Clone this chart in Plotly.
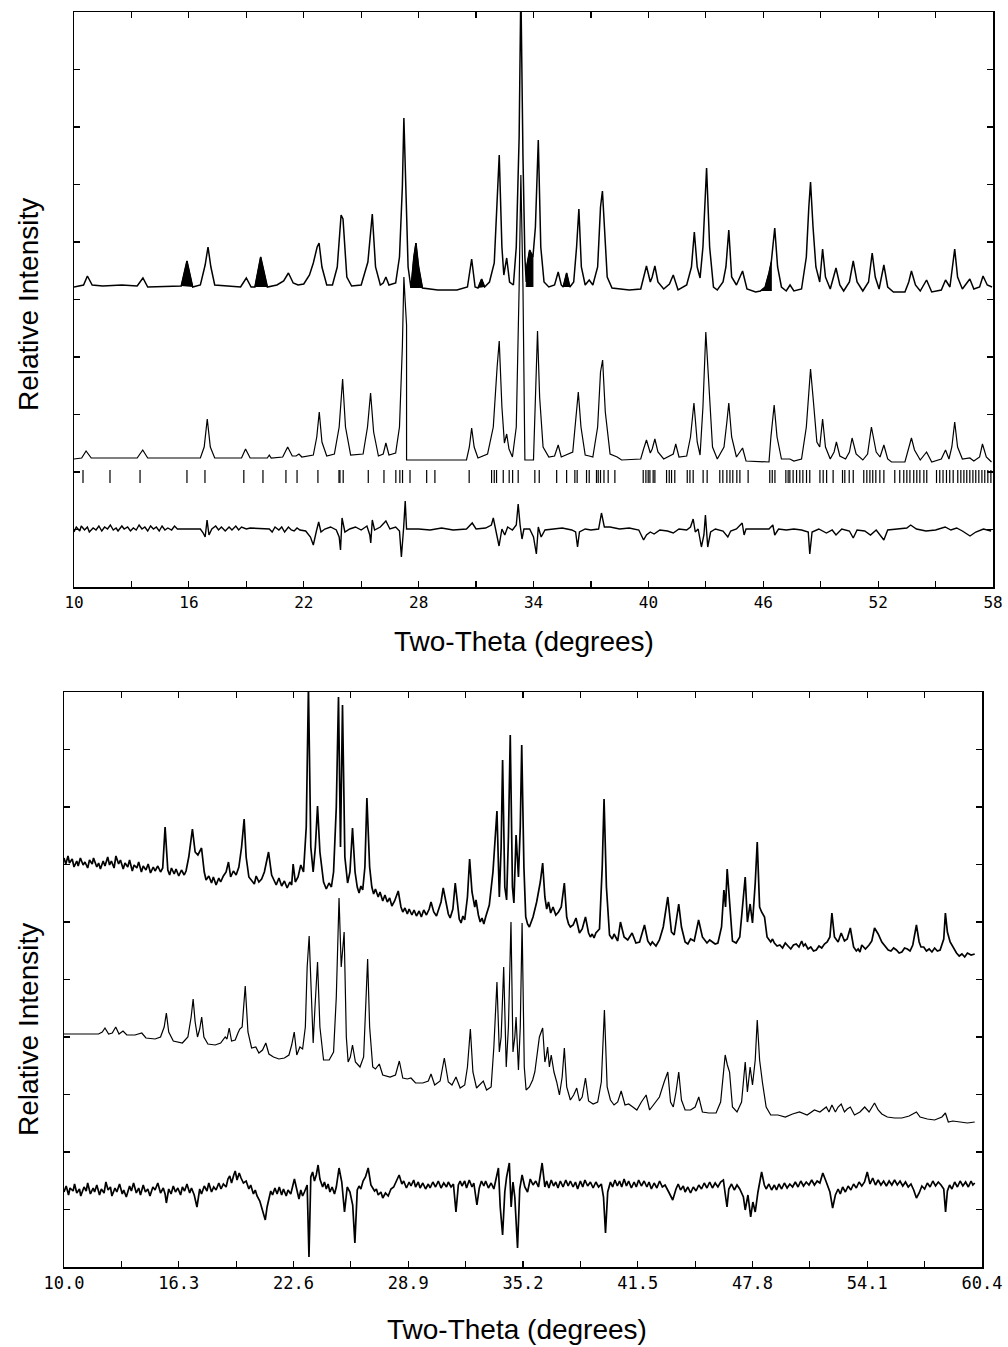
import plotly.graph_objects as go

# ---------------- TOP PANEL DATA (two-theta deg, relative intensity) ----------------
top_obs = [
(10.0,300),(10.5,302),(10.7,311),(10.95,302),(11.5,301),(12.5,302),(13.3,301),(13.6,309),(13.85,300),
(15.6,301),(15.9,326),(16.2,300),(16.6,302),(16.85,322),(17.0,340),(17.15,320),(17.35,302),
(18.7,300),(19.0,309),(19.25,300),(19.45,300),(19.75,330),(20.1,300),
(20.6,302),(20.95,306),(21.2,314),(21.45,304),(21.7,302),(22.0,303),
(22.3,312),(22.5,324),(22.7,340),(22.8,344),(22.95,320),(23.2,302),
(23.5,302),(23.75,320),(23.95,372),(24.05,368),(24.25,310),(24.5,301),
(25.0,302),(25.35,325),(25.58,373),(25.75,320),(26.0,302),(26.15,304),(26.29,310),(26.45,302),(26.8,304),
(27.0,330),(27.15,400),(27.23,469),(27.32,400),(27.45,320),(27.6,299),
(27.75,330),(27.86,344),(28.0,320),(28.2,299),
(29.0,297),(30.0,297),(30.55,300),(30.77,328),(30.95,300),(31.1,299),(31.29,308),(31.45,300),
(31.7,305),(31.95,324),(32.1,380),(32.21,432),(32.35,340),(32.45,312),(32.6,329),(32.75,305),(32.95,302),
(33.1,340),(33.25,450),(33.34,600),(33.45,430),(33.55,330),(33.62,305),(33.66,322),(33.8,337),(33.97,330),
(34.1,360),(34.25,447),(34.38,340),(34.55,305),(34.8,300),
(35.1,302),(35.29,315),(35.45,302),(35.55,300),(35.73,314),(35.9,300),
(36.1,305),(36.25,340),(36.37,378),(36.5,320),(36.7,302),(36.91,307),(37.1,302),
(37.35,320),(37.5,380),(37.6,396),(37.72,360),(37.85,310),(38.1,299),
(39.0,297),(39.6,298),(39.75,310),(39.9,321),(40.1,305),(40.2,310),(40.34,321),(40.5,305),(40.8,298),
(41.1,303),(41.3,312),(41.55,297),
(42.0,302),(42.25,320),(42.4,355),(42.55,320),(42.7,309),(42.85,340),(43.04,419),(43.2,340),(43.4,300),(43.6,297),
(43.9,305),(44.05,320),(44.2,357),(44.35,310),(44.6,302),(44.92,316),(45.15,298),
(45.6,295),(45.85,296),(46.1,300),(46.3,314),(46.42,325),(46.6,359),(46.75,320),(46.95,300),(47.2,296),(47.4,302),(47.6,296),
(48.0,298),(48.25,330),(48.38,380),(48.47,405),(48.6,360),(48.75,320),(48.95,305),(49.1,338),(49.25,310),(49.5,298),
(49.8,319),(50.0,302),(50.2,296),(50.5,305),(50.7,326),(50.9,305),(51.2,296),(51.5,305),(51.69,334),(51.85,310),(52.05,298),
(52.3,322),(52.5,300),(52.8,295),(53.4,295),(53.6,305),(53.74,316),(53.95,302),(54.2,296),(54.53,307),(54.8,295),
(55.3,297),(55.52,307),(55.75,300),(56.0,338),(56.15,310),(56.4,298),(56.79,308),(57.0,298),(57.3,300),(57.48,311),(57.7,302),(57.95,300)]

# impurity peaks (shaded black in the observed pattern)
top_impurity = [
[(15.6,301),(15.9,326),(16.2,300)],
[(19.45,300),(19.75,330),(20.1,300)],
[(27.6,299),(27.75,330),(27.86,344),(28.0,320),(28.2,299)],
[(31.1,299),(31.29,308),(31.45,300)],
[(33.62,300),(33.66,322),(33.8,337),(33.97,330),(33.97,300)],
[(35.55,300),(35.73,314),(35.9,300)],
[(45.85,296),(46.1,300),(46.3,314),(46.42,325),(46.42,296)]]

top_calc = [
(10.0,128),(10.4,129),(10.63,136),(10.9,129),(13.3,129),(13.59,137),(13.85,129),(16.6,129),(16.8,140),(16.96,168),
(17.12,140),(17.35,129),(18.75,129),(18.96,138),(19.2,129),(20.1,129),(20.2,132),(20.3,129),(20.9,130),(21.16,140),
(21.4,131),(21.6,131),(21.75,133),(21.9,130),(22.5,132),(22.68,150),(22.81,175),(22.95,145),(23.2,131),(23.6,133),
(23.85,160),(24.03,208),(24.18,160),(24.45,132),(25.1,133),(25.33,160),(25.49,194),(25.65,155),(25.9,131),(26.15,133),
(26.29,144),(26.45,132),(26.8,134),(27.0,160),(27.15,240),(27.23,310),(27.3,285),(27.37,262),(27.37,127),
(30.5,127),(30.65,140),(30.77,159),(30.9,140),(31.1,129),(31.6,133),(31.9,160),(32.1,220),(32.21,246),(32.35,180),
(32.48,144),(32.6,153),(32.72,138),(32.9,130),(33.1,160),(33.25,300),(33.34,412),(33.45,300),(33.55,127),(34.0,127),
(34.05,160),(34.15,230),(34.21,256),(34.32,190),(34.5,140),(34.8,130),(35.1,131),(35.29,142),(35.45,130),(36.05,135),
(36.2,170),(36.34,195),(36.48,160),(36.7,132),(36.91,131),(37.1,130),(37.35,160),(37.5,215),(37.61,227),(37.75,175),
(38.0,133),(38.37,130),(38.6,127),(39.6,128),(39.75,138),(39.9,147),(40.1,134),(40.2,138),(40.34,148),(40.5,135),
(40.8,128),(41.15,131),(41.3,133),(41.43,143),(41.6,130),(42.0,131),(42.2,150),(42.38,184),(42.55,145),(42.7,132),
(42.85,180),(43.0,255),(43.15,200),(43.35,140),(43.6,128),(43.95,140),(44.1,165),(44.2,184),(44.35,150),(44.6,130),
(44.92,139),(45.1,126),(46.3,125),(46.4,150),(46.57,182),(46.72,150),(46.95,128),(47.39,128),(47.6,126),(48.0,128),
(48.25,160),(48.38,200),(48.47,218),(48.6,190),(48.8,145),(48.95,140),(49.1,168),(49.25,140),(49.5,128),(49.7,135),
(49.82,145),(50.0,131),(50.3,128),(50.5,135),(50.64,149),(50.85,133),(51.2,127),(51.45,133),(51.65,160),(51.75,150),
(51.9,135),(52.1,130),(52.3,142),(52.5,128),(52.7,125),(53.4,125),(53.6,138),(53.74,149),(53.9,137),(54.2,127),
(54.53,135),(54.8,125),(55.3,128),(55.52,137),(55.7,128),(55.85,140),(56.0,165),(56.15,140),(56.4,128),(56.79,129),
(57.0,126),(57.3,130),(57.45,143),(57.65,130),(57.92,125)]

top_diff = [
(10.0,55),(10.12,60),(10.3,56),(10.38,61),(10.55,57),(10.7,60),(10.8,55),(11.0,59),(11.15,57),(11.3,61),(11.45,56),(11.6,60),
(11.75,58),(11.9,62),(12.05,57),(12.2,59),(12.3,56),(12.5,61),(12.62,58),(12.8,60),(12.95,56),(13.1,59),(13.25,57),(13.4,62),
(13.55,58),(13.7,60),(13.85,56),(14.0,61),(14.15,58),(14.3,60),(14.45,56),(14.6,61),(14.75,57),(14.9,59),(15.1,57),(15.25,61),
(15.4,58),(16.6,58),(16.75,54),(16.85,50),(16.95,67),(17.05,52),(17.2,58),(17.4,61),(17.55,57),(17.7,60),(17.9,56),(18.1,60),
(18.25,57),(18.45,61),(18.6,57),(18.75,60),(19.0,58),(19.2,59),(20.2,58),(20.35,55),(20.5,60),(20.7,57),(20.85,60),(21.0,55),
(21.2,60),(21.35,57),(21.5,56),(21.65,59),(21.8,57),(22.1,56),(22.35,50),(22.5,42),(22.65,55),(22.78,65),(22.9,55),(23.1,58),
(23.4,60),(23.7,57),(23.85,50),(23.92,37),(24.0,69),(24.15,55),(24.4,58),(24.7,60),(25.0,57),(25.3,61),(25.45,52),(25.5,44),
(25.58,67),(25.7,57),(26.0,60),(26.29,66),(26.5,58),(26.8,60),(27.0,56),(27.1,30),(27.22,60),(27.3,86),(27.37,58),(28.0,58),
(28.6,57),(29.2,59),(29.8,57),(30.5,58),(30.8,64),(31.0,58),(31.5,59),(31.8,62),(31.9,69),(32.05,56),(32.2,41),(32.35,58),(32.5,52),
(32.65,60),(32.9,57),(33.1,62),(33.2,83),(33.3,62),(33.4,48),(33.5,58),(33.8,58),(34.0,50),(34.15,33),(34.25,60),(34.4,50),
(34.6,57),(35.0,58),(35.5,59),(36.0,57),(36.2,55),(36.3,40),(36.4,55),(36.7,58),(37.0,57),(37.4,58),(37.55,74),(37.7,60),
(38.0,60),(38.5,58),(39.0,59),(39.5,57),(39.75,47),(39.9,52),(40.1,55),(40.3,53),(40.6,57),(41.0,56),(41.3,54),(41.6,58),
(42.0,57),(42.2,60),(42.34,68),(42.45,55),(42.6,58),(42.77,40),(42.9,52),(42.98,72),(43.1,40),(43.25,55),(43.5,58),(43.9,56),
(44.15,50),(44.3,56),(44.6,58),(44.9,64),(45.0,52),(45.1,58),(46.3,58),(46.5,62),(46.6,52),(46.8,58),(47.2,57),(47.6,58),
(48.0,57),(48.35,55),(48.43,33),(48.55,55),(48.9,58),(49.3,54),(49.6,57),(49.8,52),(50.1,58),(50.5,56),(50.7,49),(50.9,57),
(51.3,56),(51.6,52),(51.9,57),(52.3,47),(52.5,57),(53.0,58),(53.5,59),(53.7,62),(54.0,58),(54.5,56),(55.0,57),(55.5,60),
(55.8,57),(56.1,59),(56.4,56),(56.8,51),(57.1,55),(57.5,58),(57.9,56)]

top_reflections = [
10.47,11.88,13.45,15.9,16.84,18.87,19.87,21.07,21.65,22.74,23.84,23.89,24.06,25.37,26.19,26.81,27.02,27.16,27.55,
28.42,28.85,30.64,31.81,31.95,32.07,32.42,32.73,32.91,33.2,34.07,34.3,35.21,35.73,36.16,36.28,36.77,36.91,37.29,
37.38,37.5,37.68,37.9,38.25,39.73,39.87,39.99,40.08,40.25,40.34,40.95,41.09,41.21,41.38,42.03,42.17,42.34,42.86,
43.07,43.73,43.89,44.1,44.26,44.41,44.62,44.78,45.21,46.34,46.47,46.61,47.18,47.3,47.39,47.56,47.74,47.91,48.07,
48.26,48.43,48.96,49.13,49.31,49.65,50.14,50.26,50.49,50.7,51.25,51.41,51.57,51.72,51.88,52.09,52.3,52.87,53.13,
53.34,53.5,53.66,53.86,54.02,54.18,54.39,54.54,55.05,55.22,55.39,55.57,55.74,55.92,56.16,56.32,56.48,56.63,56.79,
56.95,57.1,57.26,57.42,57.57,57.73,57.89]

# ---------------- BOTTOM PANEL DATA ----------------
bot_obs = [
(10.0,409),(10.1,403),(10.22,411),(10.3,404),(10.45,408),(10.55,400),(10.7,406),(10.78,401),(10.9,409),(11.05,402),(11.15,405),
(11.3,399),(11.4,407),(11.55,403),(11.62,409),(11.8,400),(11.9,404),(12.0,398),(12.15,406),(12.25,401),(12.4,410),(12.5,402),
(12.6,406),(12.75,399),(12.85,411),(13.0,403),(13.1,407),(13.25,398),(13.35,404),(13.5,400),(13.6,407),(13.75,396),(13.85,402),
(14.0,399),(14.1,405),(14.25,395),(14.35,401),(14.5,397),(14.62,403),(14.75,394),(14.9,400),(15.0,396),(15.15,401),(15.3,395),
(15.42,399),(15.55,440),(15.7,397),(15.8,392),(15.9,399),(16.05,393),(16.15,398),(16.3,391),(16.45,397),(16.6,392),(16.7,396),
(16.85,410),(17.05,438),(17.2,415),(17.35,412),(17.55,419),(17.7,395),(17.8,387),(17.95,391),(18.1,384),(18.2,390),(18.35,382),
(18.5,389),(18.6,385),(18.75,391),(18.9,395),(19.03,405),(19.15,390),(19.3,396),(19.45,392),(19.6,400),(19.75,420),(19.89,448),
(20.0,410),(20.15,390),(20.3,386),(20.45,383),(20.55,391),(20.7,385),(20.85,388),(21.0,395),(21.23,415),(21.4,392),(21.55,386),
(21.65,382),(21.8,389),(21.95,381),(22.1,386),(22.25,379),(22.4,385),(22.5,382),(22.58,403),(22.7,385),(22.85,390),(23.0,402),
(23.15,395),(23.3,440),(23.42,580),(23.55,420),(23.68,395),(23.8,420),(23.92,461),(24.05,415),(24.25,385),(24.4,378),(24.55,384),
(24.68,380),(24.8,395),(24.95,460),(25.07,570),(25.18,420),(25.29,562),(25.42,410),(25.57,384),(25.7,395),(25.84,439),(25.98,395),
(26.1,380),(26.2,374),(26.3,381),(26.4,377),(26.52,400),(26.63,469),(26.78,400),(26.9,380),(27.0,373),(27.1,378),(27.25,370),
(27.35,375),(27.5,366),(27.62,372),(27.75,365),(27.88,369),(28.0,361),(28.15,366),(28.35,376),(28.5,360),(28.6,355),(28.72,359),
(28.85,353),(28.95,358),(29.1,352),(29.22,357),(29.35,351),(29.5,356),(29.62,350),(29.75,357),(29.9,352),(30.05,358),(30.15,365),
(30.3,355),(30.45,351),(30.55,357),(30.7,365),(30.82,379),(31.0,360),(31.1,353),(31.2,349),(31.35,358),(31.48,384),(31.6,362),
(31.7,348),(31.8,344),(31.9,351),(32.0,347),(32.15,370),(32.27,408),(32.4,375),(32.55,360),(32.62,367),(32.75,352),(32.85,345),
(32.95,349),(33.05,343),(33.15,350),(33.35,362),(33.55,395),(33.68,430),(33.77,456),(33.9,370),(34.0,420),(34.08,507),(34.2,380),
(34.3,367),(34.4,430),(34.5,532),(34.62,380),(34.7,364),(34.82,432),(34.95,390),(35.05,440),(35.13,522),(35.25,400),(35.35,350),
(35.45,343),(35.55,340),(35.65,346),(35.75,350),(35.95,365),(36.15,385),(36.28,404),(36.4,370),(36.5,358),(36.6,365),(36.72,354),
(36.85,360),(37.0,352),(37.15,355),(37.3,360),(37.47,384),(37.6,350),(37.7,343),(37.8,340),(37.95,342),(38.11,349),(38.3,334),
(38.45,338),(38.63,350),(38.8,334),(38.9,330),(39.0,333),(39.1,329),(39.2,334),(39.4,338),(39.55,400),(39.65,468),(39.78,380),
(39.95,332),(40.1,328),(40.2,333),(40.4,326),(40.55,345),(40.75,330),(40.95,327),(41.19,334),(41.4,324),(41.6,325),(41.87,342),
(42.05,326),(42.2,322),(42.3,325),(42.5,321),(42.69,327),(42.9,340),(43.15,370),(43.35,335),(43.5,332),(43.6,345),(43.75,363),
(43.9,340),(44.1,325),(44.25,323),(44.4,328),(44.6,326),(44.84,347),(45.05,330),(45.2,326),(45.3,324),(45.45,327),(45.6,325),
(45.75,323),(45.9,324),(46.1,340),(46.23,377),(46.32,360),(46.41,398),(46.55,360),(46.7,326),(46.9,324),(47.1,330),(47.3,370),
(47.4,390),(47.52,345),(47.67,363),(47.8,344),(47.95,384),(48.06,425),(48.19,360),(48.3,355),(48.46,350),(48.6,330),(48.7,327),
(48.8,325),(48.9,328),(49.0,324),(49.15,321),(49.3,322),(49.45,319),(49.6,324),(49.75,321),(49.9,318),(50.05,322),(50.2,323),
(50.35,320),(50.5,326),(50.6,321),(50.7,323),(50.85,318),(51.0,320),(51.15,316),(51.3,317),(51.45,321),(51.6,319),(51.75,323),
(51.9,325),(52.05,330),(52.16,354),(52.3,330),(52.4,328),(52.5,325),(52.67,334),(52.85,326),(53.0,328),(53.17,339),(53.35,320),
(53.5,316),(53.6,318),(53.7,315),(53.8,322),(54.0,318),(54.2,322),(54.35,326),(54.5,339),(54.7,333),(54.9,325),(55.1,320),
(55.25,317),(55.4,316),(55.55,319),(55.7,317),(55.85,314),(56.0,315),(56.15,319),(56.3,318),(56.45,316),(56.6,322),(56.8,342),
(56.95,325),(57.05,320),(57.2,320),(57.35,316),(57.5,318),(57.65,315),(57.8,319),(57.95,316),(58.1,317),(58.3,328),(58.39,354),
(58.5,335),(58.65,325),(58.8,320),(58.9,316),(59.0,314),(59.15,311),(59.3,313),(59.45,310),(59.6,314),(59.8,312),(60.0,313)]

bot_calc = [
(10.0,233),(11.9,233),(12.1,235),(12.25,239),(12.45,233),(12.65,234),(12.84,240),(13.02,233),(13.24,236),(13.45,232),(13.9,232),
(14.27,234),(14.5,229),(15.0,228),(15.3,230),(15.5,240),(15.62,254),(15.75,235),(16.0,226),(16.5,224),(16.8,230),(16.98,250),
(17.09,268),(17.2,245),(17.33,230),(17.45,238),(17.56,250),(17.68,230),(17.9,223),(18.3,222),(18.6,224),(18.85,230),(18.95,228),
(19.07,239),(19.2,226),(19.4,227),(19.55,234),(19.65,238),(19.78,240),(19.95,281),(20.1,235),(20.3,219),(20.53,220),(20.7,214),
(20.9,217),(21.08,224),(21.25,213),(21.5,210),(21.8,208),(22.1,209),(22.35,212),(22.5,222),(22.64,235),(22.78,212),(22.95,220),
(23.1,218),(23.25,240),(23.35,300),(23.46,331),(23.57,280),(23.68,224),(23.78,260),(23.92,305),(24.05,240),(24.25,207),(24.56,207),
(24.8,215),(24.95,270),(25.1,369),(25.22,300),(25.38,335),(25.5,230),(25.6,205),(25.72,210),(25.84,222),(26.0,205),(26.25,200),
(26.45,210),(26.58,260),(26.67,308),(26.78,240),(26.95,200),(27.1,198),(27.31,203),(27.5,192),(27.9,190),(28.2,192),(28.41,206),
(28.6,189),(28.85,188),(29.05,189),(29.3,184),(29.7,184),(30.0,186),(30.15,193),(30.35,182),(30.65,186),(30.88,209),(31.1,185),
(31.3,182),(31.52,190),(31.75,179),(32.0,182),(32.15,200),(32.31,238),(32.45,195),(32.65,179),(32.85,183),(33.02,186),(33.2,177),
(33.45,180),(33.6,220),(33.77,285),(33.9,215),(34.0,230),(34.14,300),(34.28,200),(34.4,240),(34.54,345),(34.65,215),(34.75,230),
(34.82,250),(34.95,197),(35.05,240),(35.15,344),(35.27,200),(35.37,177),(35.55,180),(35.73,187),(35.85,195),(35.98,215),(36.1,230),
(36.28,239),(36.4,205),(36.47,210),(36.55,220),(36.65,200),(36.75,212),(36.9,195),(37.05,185),(37.2,172),(37.35,190),(37.47,219),
(37.6,180),(37.8,167),(37.98,172),(38.15,179),(38.3,166),(38.45,170),(38.63,189),(38.8,166),(39.05,163),(39.3,165),(39.5,185),
(39.67,257),(39.82,180),(40.0,167),(40.2,162),(40.4,165),(40.59,176),(40.8,162),(41.0,163),(41.23,160),(41.45,157),(41.7,165),
(41.96,172),(42.15,157),(42.4,163),(42.69,170),(42.95,185),(43.15,195),(43.3,165),(43.45,160),(43.6,175),(43.75,195),(43.9,167),
(44.1,157),(44.4,157),(44.65,160),(44.85,170),(45.05,155),(45.4,154),(45.8,154),(46.05,165),(46.2,195),(46.3,212),(46.42,202),
(46.54,195),(46.7,160),(46.95,155),(47.2,165),(47.4,205),(47.52,175),(47.67,200),(47.8,182),(47.95,207),(48.06,247),(48.19,207),
(48.35,184),(48.55,160),(48.8,152),(49.2,152),(49.6,150),(50.0,153),(50.38,155),(50.8,152),(51.2,157),(51.5,155),(51.85,160),
(52.0,155),(52.16,162),(52.35,155),(52.5,160),(52.67,163),(52.85,155),(53.0,158),(53.17,160),(53.4,152),(53.7,155),(53.96,160),
(54.2,155),(54.5,164),(54.7,157),(54.9,153),(55.2,150),(55.6,149),(56.0,149),(56.4,151),(56.8,155),(57.0,150),(57.4,148),
(57.8,147),(58.2,150),(58.39,154),(58.55,145),(58.8,146),(59.2,145),(59.6,144),(60.0,145)]

bot_diff = [
(10.0,75),(10.12,81),(10.25,72),(10.33,79),(10.5,76),(10.58,83),(10.7,74),(10.85,78),(10.92,71),(11.1,80),(11.22,76),(11.3,84),
(11.45,73),(11.6,79),(11.68,75),(11.8,82),(11.95,72),(12.05,78),(12.2,74),(12.3,85),(12.42,77),(12.55,80),(12.63,71),(12.8,79),
(12.9,75),(13.05,83),(13.2,73),(13.28,77),(13.42,70),(13.6,81),(13.7,76),(13.82,84),(13.97,74),(14.1,79),(14.2,72),(14.35,82),
(14.47,75),(14.6,78),(14.72,71),(14.88,80),(15.0,77),(15.15,84),(15.3,74),(15.45,79),(15.55,73),(15.62,64),(15.75,78),(15.88,73),
(16.0,81),(16.12,75),(16.25,79),(16.4,72),(16.5,80),(16.62,76),(16.75,83),(16.9,74),(17.0,79),(17.15,72),(17.3,60),(17.45,78),
(17.55,73),(17.7,81),(17.85,76),(17.95,84),(18.1,75),(18.22,80),(18.35,77),(18.5,84),(18.62,78),(18.75,83),(18.9,80),(19.0,88),
(19.1,91),(19.2,84),(19.32,92),(19.4,96),(19.5,87),(19.62,94),(19.72,89),(19.85,84),(20.0,86),(20.15,78),(20.25,82),(20.4,73),
(20.5,77),(20.6,71),(20.75,66),(20.85,60),(20.95,53),(21.05,47),(21.15,60),(21.25,70),(21.35,76),(21.45,72),(21.58,79),(21.7,73),
(21.82,80),(21.95,72),(22.05,78),(22.2,71),(22.3,77),(22.45,73),(22.55,80),(22.65,88),(22.75,80),(22.9,68),(23.0,77),(23.1,71),
(23.2,75),(23.35,82),(23.45,10),(23.55,90),(23.65,95),(23.75,86),(23.85,92),(23.95,102),(24.05,88),(24.2,80),(24.3,85),(24.4,78),
(24.5,83),(24.6,75),(24.72,80),(24.85,73),(24.95,80),(25.1,99),(25.25,85),(25.4,55),(25.55,80),(25.7,75),(25.85,62),(25.97,24),
(26.1,77),(26.2,81),(26.3,78),(26.42,86),(26.55,90),(26.7,99),(26.85,82),(26.95,79),(27.05,76),(27.15,78),(27.25,72),(27.4,75),
(27.5,69),(27.65,74),(27.8,71),(27.95,78),(28.1,80),(28.2,84),(28.4,92),(28.55,83),(28.65,86),(28.8,79),(28.95,85),(29.05,81),
(29.2,87),(29.3,80),(29.45,85),(29.55,79),(29.7,84),(29.85,78),(30.0,83),(30.1,79),(30.25,85),(30.4,80),(30.55,86),(30.7,79),
(30.85,84),(31.0,80),(31.1,85),(31.25,80),(31.38,83),(31.52,55),(31.65,82),(31.75,86),(31.85,81),(32.0,86),(32.1,79),(32.25,87),
(32.4,80),(32.5,84),(32.67,62),(32.8,79),(32.92,86),(33.05,81),(33.15,86),(33.3,79),(33.45,84),(33.6,78),(33.75,90),(33.85,99),
(33.95,60),(34.08,32),(34.2,75),(34.3,90),(34.45,104),(34.55,60),(34.65,85),(34.75,70),(34.9,19),(35.02,78),(35.15,92),(35.3,80),
(35.45,75),(35.6,88),(35.75,82),(35.9,86),(36.05,80),(36.25,104),(36.4,80),(36.5,86),(36.62,79),(36.75,87),(36.88,81),(37.0,85),
(37.12,79),(37.25,86),(37.4,80),(37.55,87),(37.68,81),(37.8,86),(37.95,80),(38.08,85),(38.2,78),(38.35,86),(38.48,80),(38.6,87),
(38.75,81),(38.9,85),(39.05,79),(39.2,85),(39.35,80),(39.5,83),(39.62,70),(39.73,34),(39.85,75),(40.0,85),(40.12,80),(40.25,87),
(40.38,81),(40.5,86),(40.62,80),(40.75,88),(40.88,81),(41.0,86),(41.15,79),(41.3,85),(41.42,80),(41.55,87),(41.7,81),(41.85,86),
(42.0,80),(42.12,85),(42.25,78),(42.4,84),(42.55,79),(42.7,86),(42.85,80),(43.0,82),(43.2,75),(43.42,67),(43.6,78),(43.72,83),
(43.85,77),(44.0,81),(44.1,75),(44.25,80),(44.4,74),(44.55,80),(44.7,76),(44.85,82),(45.0,78),(45.15,84),(45.3,79),(45.45,85),
(45.6,79),(45.75,84),(45.9,80),(46.05,85),(46.2,87),(46.3,75),(46.4,60),(46.5,78),(46.65,83),(46.8,77),(46.95,82),(47.1,78),
(47.3,70),(47.4,57),(47.55,72),(47.7,50),(47.82,65),(47.95,55),(48.1,75),(48.3,95),(48.45,82),(48.55,78),(48.7,83),(48.85,77),
(49.0,82),(49.12,77),(49.25,83),(49.4,78),(49.55,84),(49.7,79),(49.85,83),(50.0,80),(50.15,85),(50.3,80),(50.45,86),(50.6,81),
(50.75,85),(50.9,82),(51.05,87),(51.2,82),(51.35,86),(51.5,84),(51.66,94),(51.85,85),(52.05,75),(52.2,59),(52.35,72),(52.5,78),
(52.62,73),(52.75,80),(52.9,75),(53.05,81),(53.2,77),(53.35,83),(53.5,79),(53.65,85),(53.8,81),(53.95,85),(54.1,95),(54.25,83),
(54.4,89),(54.55,82),(54.7,87),(54.85,82),(55.0,86),(55.15,81),(55.3,86),(55.45,82),(55.6,87),(55.75,82),(55.9,86),(56.05,81),
(56.2,85),(56.35,80),(56.5,83),(56.65,77),(56.8,69),(56.95,74),(57.1,81),(57.25,78),(57.4,84),(57.55,80),(57.7,86),(57.85,81),
(58.0,85),(58.15,82),(58.3,78),(58.4,55),(58.5,76),(58.62,82),(58.75,78),(58.9,85),(59.05,80),(59.2,86),(59.35,81),(59.5,85),
(59.65,80),(59.8,86),(59.9,82),(60.0,84)]

top_xticks = [10, 13, 16, 19, 22, 25, 28, 31, 34, 37, 40, 43, 46, 49, 52, 55, 58]
top_xlabels = ["10", "", "16", "", "22", "", "28", "", "34", "", "40", "", "46", "", "52", "", "58"]
bot_xticks = [10.0, 13.15, 16.3, 19.45, 22.6, 25.75, 28.9, 32.05, 35.2, 38.35, 41.5, 44.65, 47.8, 50.95, 54.1, 57.25, 60.4]
bot_xlabels = ["10.0", "", "16.3", "", "22.6", "", "28.9", "", "35.2", "", "41.5", "", "47.8", "", "54.1", "", "60.4"]
y_ticks = [0, 57.5, 115, 172.5, 230, 287.5, 345, 402.5, 460, 517.5, 575]

# ---------------- helpers ----------------
def unzip(pts):
    return [p[0] for p in pts], [p[1] for p in pts]

def joined(polys):
    xs, ys = [], []
    for poly in polys:
        px, py = unzip(poly)
        xs += px + [None]
        ys += py + [None]
    return xs, ys

REFL_TOP, REFL_BOT = 117, 104   # vertical extent of reflection bars (style)

W, H = 1008, 1347

def fx(px):
    return px / W

def fy(py):
    return 1 - py / H

fig = go.Figure()

# top panel
x, y = unzip(top_obs)
fig.add_trace(go.Scatter(x=x, y=y, mode="lines", line=dict(color="black", width=1.5), xaxis="x", yaxis="y"))
x, y = joined(top_impurity)
fig.add_trace(go.Scatter(x=x, y=y, mode="lines", fill="toself", fillcolor="black",
                         line=dict(color="black", width=1), xaxis="x", yaxis="y"))
x, y = unzip(top_calc)
fig.add_trace(go.Scatter(x=x, y=y, mode="lines", line=dict(color="black", width=1.2), xaxis="x", yaxis="y"))
x, y = unzip(top_diff)
fig.add_trace(go.Scatter(x=x, y=y, mode="lines", line=dict(color="black", width=1.4), xaxis="x", yaxis="y"))
rx, ry = [], []
for p in top_reflections:
    rx += [p, p, None]
    ry += [REFL_TOP, REFL_BOT, None]
fig.add_trace(go.Scatter(x=rx, y=ry, mode="lines", line=dict(color="black", width=1.2), xaxis="x", yaxis="y"))

# bottom panel
for pts, w in [(bot_obs, 1.7), (bot_calc, 1.2), (bot_diff, 1.7)]:
    x, y = unzip(pts)
    fig.add_trace(go.Scatter(x=x, y=y, mode="lines", line=dict(color="black", width=w), xaxis="x2", yaxis="y2"))

axis_common = dict(showgrid=False, zeroline=False, showline=True, linecolor="black", linewidth=1.5,
                   mirror="ticks", ticks="inside", ticklen=6, tickwidth=1.2, tickcolor="black",
                   automargin=False)

fig.update_layout(
    width=W, height=H, showlegend=False,
    paper_bgcolor="white", plot_bgcolor="white",
    margin=dict(l=0, r=0, t=0, b=0, pad=0, autoexpand=False),
    xaxis=dict(domain=[fx(74), fx(993)], range=[10, 58], anchor="y",
               tickvals=top_xticks, ticktext=top_xlabels,
               tickfont=dict(family="DejaVu Sans Mono", size=16, color="black"), **axis_common),
    yaxis=dict(domain=[fy(587), fy(12)], range=[0, 575], anchor="x",
               tickvals=y_ticks, showticklabels=False, **axis_common),
    xaxis2=dict(domain=[fx(64), fx(982)], range=[10, 60.4], anchor="y2",
                tickvals=bot_xticks, ticktext=bot_xlabels,
                tickfont=dict(family="DejaVu Sans Mono", size=17, color="black"), **axis_common),
    yaxis2=dict(domain=[fy(1267), fy(692)], range=[0, 575], anchor="x2",
                tickvals=y_ticks, showticklabels=False, **axis_common),
)

title_font = dict(family="Liberation Sans, Arial", size=28, color="black")
fig.add_annotation(text="Two-Theta (degrees)", x=fx(524), y=fy(641), xref="paper", yref="paper",
                   showarrow=False, font=title_font, xanchor="center", yanchor="middle")
fig.add_annotation(text="Relative Intensity", x=fx(28), y=fy(305), xref="paper", yref="paper",
                   showarrow=False, font=title_font, textangle=-90, xanchor="center", yanchor="middle")
fig.add_annotation(text="Two-Theta (degrees)", x=fx(517), y=fy(1329), xref="paper", yref="paper",
                   showarrow=False, font=title_font, xanchor="center", yanchor="middle")
fig.add_annotation(text="Relative Intensity", x=fx(28), y=fy(1030), xref="paper", yref="paper",
                   showarrow=False, font=title_font, textangle=-90, xanchor="center", yanchor="middle")

# remove the browser's default 8px body margin so the figure sits at the page origin
fig.write_html("out.html", config={"displayModeBar": False, "staticPlot": True},
               post_script="document.body.style.margin='0px';")
